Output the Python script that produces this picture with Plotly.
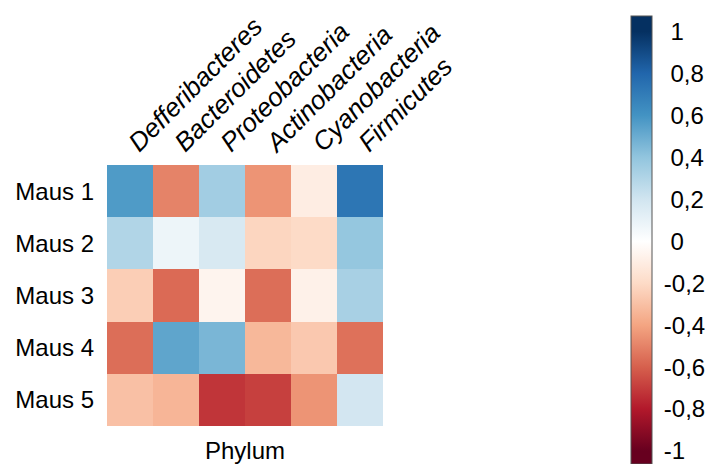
import plotly.graph_objects as go

# Correlation of phylum abundance per mouse
phyla = ["Defferibacteres", "Bacteroidetes", "Proteobacteria",
         "Actinobacteria", "Cyanobacteria", "Firmicutes"]
mice = ["Maus 1", "Maus 2", "Maus 3", "Maus 4", "Maus 5"]

maus_1 = [0.57, -0.50, 0.35, -0.45, -0.10, 0.73]
maus_2 = [0.30, 0.08, 0.17, -0.22, -0.20, 0.39]
maus_3 = [-0.25, -0.57, -0.06, -0.56, -0.08, 0.33]
maus_4 = [-0.56, 0.53, 0.46, -0.33, -0.27, -0.55]
maus_5 = [-0.30, -0.34, -0.72, -0.69, -0.45, 0.19]

tick_values = [1, 0.8, 0.6, 0.4, 0.2, 0, -0.2, -0.4, -0.6, -0.8, -1]
tick_labels = ["1", "0,8", "0,6", "0,4", "0,2", "0", "-0,2", "-0,4", "-0,6", "-0,8", "-1"]

# diverging red-white-blue palette, value -> colour
palette = [(-1.0, "#67001F"), (-0.8, "#B2182B"), (-0.6, "#D6604D"),
           (-0.4, "#F4A582"), (-0.2, "#FDDBC7"), (0.0, "#FFFFFF"),
           (0.2, "#D1E5F0"), (0.4, "#92C5DE"), (0.6, "#4393C3"),
           (0.8, "#2166AC"), (1.0, "#053061")]

z = [maus_1, maus_2, maus_3, maus_4, maus_5]

heat_scale = [[(v + 1) / 2, c] for v, c in palette]

# the legend bar runs a little past +-1 at both ends
bar_lo, bar_hi = -1.062, 1.074
span = bar_hi - bar_lo
bar_scale = [[0.0, palette[0][1]]]
bar_scale += [[(v - bar_lo) / span, c] for v, c in palette]
bar_scale += [[1.0, palette[-1][1]]]

# positive labels get a hyphen-wide lead so the digits line up
NBSP = "\u00a0"
bar_text = [t if t.startswith("-") else NBSP + t for t in tick_labels]

FONT = "Liberation Sans, Arial, sans-serif"
SIZE = 24

W, H = 709, 464
ML, MR, MT, MB = 107, 326, 165, 38
plot_w = W - ML - MR
plot_h = H - MT - MB

fig = go.Figure()
fig.add_trace(go.Heatmap(
    z=z, x=phyla, y=mice,
    zmin=-1, zmax=1, colorscale=heat_scale,
    showscale=False, hoverongaps=False,
))

# colour legend, placed in paper units relative to the plot area
fig.add_trace(go.Scatter(
    x=[None], y=[None], mode="markers", showlegend=False,
    marker=dict(
        color=[bar_lo, bar_hi], cmin=bar_lo, cmax=bar_hi,
        colorscale=bar_scale, showscale=True,
        colorbar=dict(
            x=(631 - ML) / plot_w, xanchor="left",
            y=(H - MB - 16) / plot_h, yanchor="top",
            lenmode="pixels", len=448,
            thickness=21, xpad=0, ypad=0,
            outlinecolor="#555555", outlinewidth=1,
            tickvals=tick_values, ticktext=bar_text,
            ticks="outside", ticklen=7, tickcolor="rgba(0,0,0,0)",
            ticklabeloverflow="allow",
            tickfont=dict(family=FONT, size=SIZE, color="black"),
        ),
    ),
))

fig.add_annotation(
    text="Phylum", xref="paper", yref="paper",
    x=0.5, y=0, yshift=-9, yanchor="top", showarrow=False,
    font=dict(family=FONT, size=SIZE, color="black"),
)

fig.update_layout(
    width=W, height=H,
    margin=dict(l=ML, r=MR, t=MT, b=MB, autoexpand=False),
    paper_bgcolor="white", plot_bgcolor="white",
    font=dict(family=FONT, size=SIZE, color="black"),
    xaxis=dict(side="top", tickangle=-45, showgrid=False, zeroline=False,
               ticks="", ticklabelstandoff=2, automargin=False,
               tickfont=dict(family=FONT, size=26, style="italic")),
    yaxis=dict(autorange="reversed", showgrid=False, zeroline=False,
               ticks="", ticklabelstandoff=12, automargin=False,
               tickfont=dict(family=FONT, size=SIZE)),
)

fig.write_html("out.html")
